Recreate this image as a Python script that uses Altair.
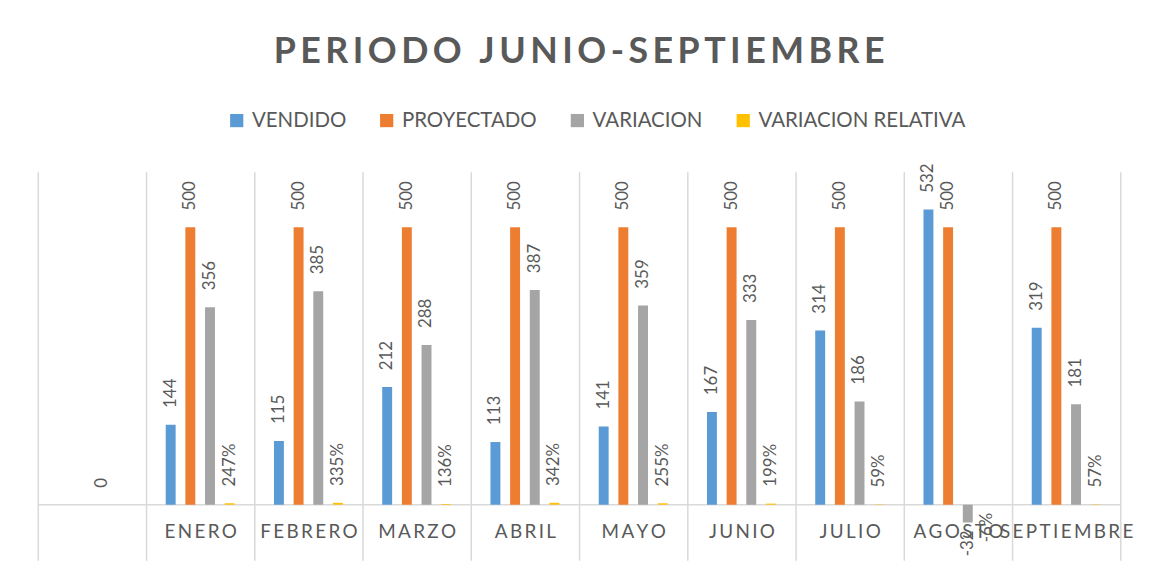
import altair as alt
import pandas as pd

categorias = ["", "ENERO", "FEBRERO", "MARZO", "ABRIL", "MAYO", "JUNIO", "JULIO", "AGOSTO", "SEPTIEMBRE"]
vendido = [None, 144, 115, 212, 113, 141, 167, 314, 532, 319]
proyectado = [None, 500, 500, 500, 500, 500, 500, 500, 500, 500]
variacion = [0, 356, 385, 288, 387, 359, 333, 186, -32, 181]
variacion_relativa = [None, 2.47, 3.35, 1.36, 3.42, 2.55, 1.99, 0.59, -0.06, 0.57]

series = ["VENDIDO", "PROYECTADO", "VARIACION", "VARIACION RELATIVA"]
colores = ["#5B9BD5", "#ED7D31", "#A5A5A5", "#FFC000"]
titulo = "PERIODO JUNIO-SEPTIEMBRE"

rows = []
for serie, valores in zip(series, [vendido, proyectado, variacion, variacion_relativa]):
    for mes, v in zip(categorias, valores):
        if v is None:
            continue
        if serie == "VARIACION RELATIVA":
            etiqueta = f"{round(v * 100)}%"
        else:
            etiqueta = f"{v:g}"
        rows.append({"mes": mes, "serie": serie, "valor": v, "etiqueta": etiqueta})
df = pd.DataFrame(rows)

GRAY = "#D9D9D9"
TXT = "#595959"

x_enc = alt.X(
    "mes:N",
    sort=categorias,
    scale=alt.Scale(domain=categorias, paddingInner=0, paddingOuter=0),
    axis=alt.Axis(
        title=None, domain=False, ticks=False, tickSize=0, grid=True,
        gridColor=GRAY, gridWidth=1.5, tickBand="extent", labelAngle=0,
        labelExpr="join(split(datum.label, ''), '\u2009')",
        labelFont="Lato", labelFontSize=19, labelColor=TXT,
        labelPadding=-29, labelBaseline="middle",
    ),
)
xoff = alt.XOffset(
    "serie:N", sort=series,
    scale=alt.Scale(domain=series, paddingInner=0.495, paddingOuter=1),
)
y_enc = alt.Y("valor:Q", scale=alt.Scale(domain=[-100, 600], nice=False, zero=False), axis=None)

base = alt.Chart(df).encode(x=x_enc, xOffset=xoff, y=y_enc)

bars = base.mark_bar().encode(
    color=alt.Color(
        "serie:N",
        scale=alt.Scale(domain=series, range=colores),
        legend=alt.Legend(
            orient="none", legendX=190, legendY=-62, direction="horizontal",
            title=None, symbolType="square", symbolSize=177, symbolStrokeWidth=0,
            labelFont="Lato", labelFontSize=20.6, labelColor=TXT, labelLimit=0,
            columnPadding=30, labelOffset=5, columns=4,
        ),
    )
)

lab_pos = base.transform_filter("datum.valor >= 0").mark_text(
    angle=270, align="left", baseline="middle", dx=17,
    font="Lato", fontSize=17, color=TXT,
).encode(text="etiqueta:N")

lab_neg = base.transform_filter("datum.valor < 0").mark_text(
    angle=270, align="right", baseline="middle", dx=-8,
    font="Lato", fontSize=17, color=TXT,
).encode(text="etiqueta:N")

zero = alt.Chart(pd.DataFrame({"v": [0]})).mark_rule(color=GRAY, strokeWidth=1.5).encode(
    y=alt.Y("v:Q", scale=alt.Scale(domain=[-100, 600], nice=False, zero=False), axis=None)
)

chart = alt.layer(zero, bars, lab_pos, lab_neg).properties(
    width=1090,
    height=391,
    title=alt.TitleParams(
        text=alt.ExprRef(expr="join(split('" + titulo + "', ''), '\u2009')"),
        font="Lato", fontSize=36, fontWeight="bold", color=TXT,
        anchor="middle", offset=40,
    ),
    autosize=alt.AutoSizeParams(type="none"),
    padding={"left": 30, "top": 163, "right": 47, "bottom": 26},
    background="white",
).configure_view(stroke=None)

chart.save("out.html", embed_options={"renderer": "svg", "actions": False})
